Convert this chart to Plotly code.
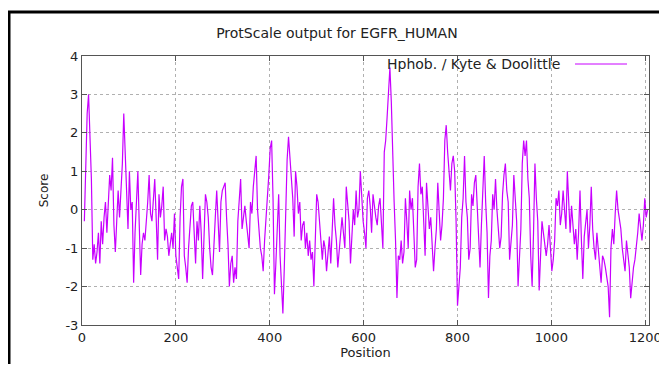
import plotly.graph_objects as go

# Kyte & Doolittle hydrophobicity (window profile) for EGFR_HUMAN
positions = list(range(5, 1206, 3))
scores = [
    # 5 .. 101
    -0.3, 1.3, 2.5, 3.0, 2.0, 0.8, -1.3, -0.9, -1.4, -1.1, -0.6, -1.4, -0.3, -0.9, -0.2, 0.2,
    -0.6, 0.3, 0.9, 0.5, 1.35, -0.4, -1.1, -0.3, 0.5, -0.2, 0.6, 1.2, 2.5, 1.3, 0.4, -0.5, 1.0,
    # 104 .. 200
    0.0, 0.2, -1.9, -0.6, 0.3, 1.0, -0.4, -1.7, -0.9, -0.6, -0.8, -0.4, 0.2, 0.9, -0.1, -0.3,
    0.3, 0.8, -0.2, -1.3, 0.4, -0.2, 0.1, 0.6, -0.8, -0.5, -0.7, -1.2, -0.9, -0.6, -1.0, -0.1, -1.2,
    # 203 .. 299
    -1.5, -1.8, -0.2, 0.6, 0.8, -1.2, -1.5, -1.9, -1.0, -0.5, 0.1, 0.2, -0.6, -1.4, -0.3, -0.8,
    0.1, -0.6, -1.8, -0.5, 0.4, 0.2, -0.2, -1.0, -1.5, -1.7, -0.8, -0.2, 0.5, -0.4, -1.1, 0.2, 0.5,
    # 302 .. 398
    0.6, 0.7, -0.2, -0.9, -2.0, -1.4, -1.2, -1.9, -1.5, -1.8, -0.3, 0.3, 0.8, -0.5, -0.1, 0.1,
    -0.3, -0.6, -1.0, 0.2, -0.1, 0.6, 1.0, 1.4, 0.0, -0.6, -1.0, -1.2, -1.6, -0.8, -0.3, 0.2, 0.9,
    # 401 .. 497
    1.6, 1.8, 0.3, -2.2, -1.4, -0.6, 0.4, -1.2, -1.8, -2.7, -1.5, 0.2, 1.3, 1.9, 1.4, 0.8,
    0.3, -0.7, 1.0, 0.6, -0.1, 0.2, -0.8, -0.4, -0.3, -1.0, -0.6, -1.2, -0.8, -1.3, -1.1, -2.0, -0.9,
    # 500 .. 596
    0.4, 0.2, -0.3, -0.6, -1.3, -0.8, -1.0, -1.6, -1.2, -0.7, -1.4, -0.5, 0.3, -0.4, -0.8, -1.5,
    -1.0, -0.7, -0.2, -0.6, -1.0, 0.6, 0.1, -0.3, -1.4, -0.6, 0.0, -0.4, 0.5, -0.2, 0.0, 1.0, 0.2,
    # 599 .. 695
    -0.3, -0.6, -1.0, 0.3, 0.5, 0.1, -0.6, 0.4, 0.0, -0.2, -0.4, 0.1, 0.3, -0.5, -1.0, 1.5,
    1.8, 2.4, 3.1, 3.7, 2.8, 1.2, 0.2, -0.8, -2.3, -1.2, -1.3, -0.8, -1.4, -1.1, 0.3, -0.3, -1.0,
    # 698 .. 794
    0.5, 0.0, 0.3, -0.6, -1.5, -1.3, 0.6, 1.2, 0.4, 0.6, -0.3, -1.2, 0.7, 0.1, -0.5, -0.2,
    -0.9, -1.6, -1.0, -0.5, 0.7, 0.0, -0.8, -0.4, 0.3, 1.8, 2.2, 1.5, 0.9, 0.5, 1.2, 1.4, 1.0,
    # 797 .. 893
    -0.3, -2.5, -2.0, -1.5, -0.2, 0.3, 1.4, 0.2, -0.2, -1.3, -1.0, 0.4, 0.1, 0.7, 0.9, 0.2,
    -0.5, -1.5, -0.4, 0.8, 1.4, 0.2, -0.6, -2.3, -1.2, -0.8, 0.4, 0.0, 0.8, 0.0, -0.4, -1.0, -0.7,
    # 896 .. 992
    0.4, 0.9, 1.2, 0.5, 0.2, -1.3, -0.8, -0.4, 0.9, 0.2, -0.3, -2.0, -1.0, -0.5, 1.2, 1.8,
    1.4, 1.8, 0.8, 0.3, -1.2, -2.0, -0.6, 1.2, 0.3, -0.3, -2.1, -1.0, -0.3, -0.6, -0.9, -1.2, -0.9,
    # 995 .. 1091
    -0.4, -1.0, -1.6, -1.3, -0.8, 0.3, 0.1, 0.5, -0.4, -0.1, 0.5, 0.0, -0.5, 1.0, 0.2, -0.6,
    0.1, -0.3, -0.9, -0.5, -1.3, -0.6, 0.5, -0.8, -1.8, -0.7, -0.4, 0.0, -1.0, -0.4, 0.6, -0.5, -1.0,
    # 1094 .. 1205
    -1.3, -0.6, -1.0, -1.4, -1.9, -1.2, -1.3, -1.5, -1.7, -2.0, -2.8, -1.0, -0.5, -0.9, -0.1, 0.5,
    0.0, -0.3, -0.5, -1.0, -1.3, -1.6, -0.8, -1.2, -1.5, -2.3, -1.8, -1.5, -1.3, -1.0, -0.6, -0.1,
    -0.4, -0.8, -0.4, 0.3, -0.2, 0.0,
]

x_ticks = [0, 200, 400, 600, 800, 1000, 1200]
y_ticks = [-3, -2, -1, 0, 1, 2, 3, 4]
series_name = "Hphob. / Kyte & Doolittle"
title_text = "ProtScale output for EGFR_HUMAN"
line_color = "#c800ff"

# the page body has an 8px margin, so the figure starts at (8, 8) in the window;
# width reaches the window's right edge, height kept short enough that the page does not scroll
OFF = 8
W, H = 667 - OFF, 372 - 2 * OFF
# plot box in window pixels: x 82..649, y 56..325
PL, PR, PT, PB = 82, 649, 56, 325
L, T = PL - OFF, PT - OFF
R = W - (PR - OFF)
B = H - (PB - OFF)
pw, ph = W - L - R, H - T - B


def px(xp):
    """window pixel x -> paper x"""
    return (xp - PL) / pw


def py(yp):
    """window pixel y -> paper y"""
    return (PB - yp) / ph


fig = go.Figure()
fig.add_trace(go.Scatter(
    x=positions, y=scores, mode="lines",
    line=dict(color=line_color, width=1.2),
    name=series_name, showlegend=False,
))

font_family = "DejaVu Sans, Verdana, sans-serif"
text_color = "#222222"
axis_common = dict(
    showgrid=True, gridcolor="#b0b0b0", griddash="dot", gridwidth=1,
    zeroline=False, showline=True, linecolor="#555555", linewidth=1,
    mirror="allticks", ticks="inside", ticklen=5, tickcolor="#555555",
    tickfont=dict(family=font_family, size=13, color=text_color),
    automargin=False,
)

fig.update_xaxes(range=[0, 1208], tickvals=x_ticks, ticktext=[str(v) for v in x_ticks],
                 title=dict(text="Position", font=dict(family=font_family, size=13, color=text_color),
                            standoff=4),
                 **axis_common)
fig.update_yaxes(range=[-3, 4], tickvals=y_ticks, ticktext=[str(v) for v in y_ticks],
                 title=dict(text="Score", font=dict(family=font_family, size=12, color=text_color),
                            standoff=14),
                 **axis_common)

# outer black frame (only its left and top edges fall inside the window)
fig.add_shape(type="line", xref="paper", yref="paper",
              x0=px(9), x1=px(9), y0=py(12), y1=py(420),
              line=dict(color="#000000", width=3), layer="below")
fig.add_shape(type="line", xref="paper", yref="paper",
              x0=px(7.5), x1=px(700), y0=py(12), y1=py(12),
              line=dict(color="#000000", width=3), layer="below")

# gnuplot-style key: text then line sample
fig.add_annotation(xref="paper", yref="paper", x=px(562), y=py(64), text=series_name,
                   showarrow=False, xanchor="right", yanchor="middle",
                   font=dict(family=font_family, size=14, color=text_color))
fig.add_shape(type="line", xref="paper", yref="paper",
              x0=px(575), x1=px(627), y0=py(64), y1=py(64),
              line=dict(color=line_color, width=1))

fig.update_layout(
    width=W, height=H,
    margin=dict(l=L, r=R, t=T, b=B, autoexpand=False),
    paper_bgcolor="white", plot_bgcolor="white",
    title=dict(text=title_text, x=px(365), xanchor="center", y=1 - (33 - OFF) / H, yanchor="middle",
               font=dict(family=font_family, size=14, color=text_color)),
)

fig.write_html("out.html")
